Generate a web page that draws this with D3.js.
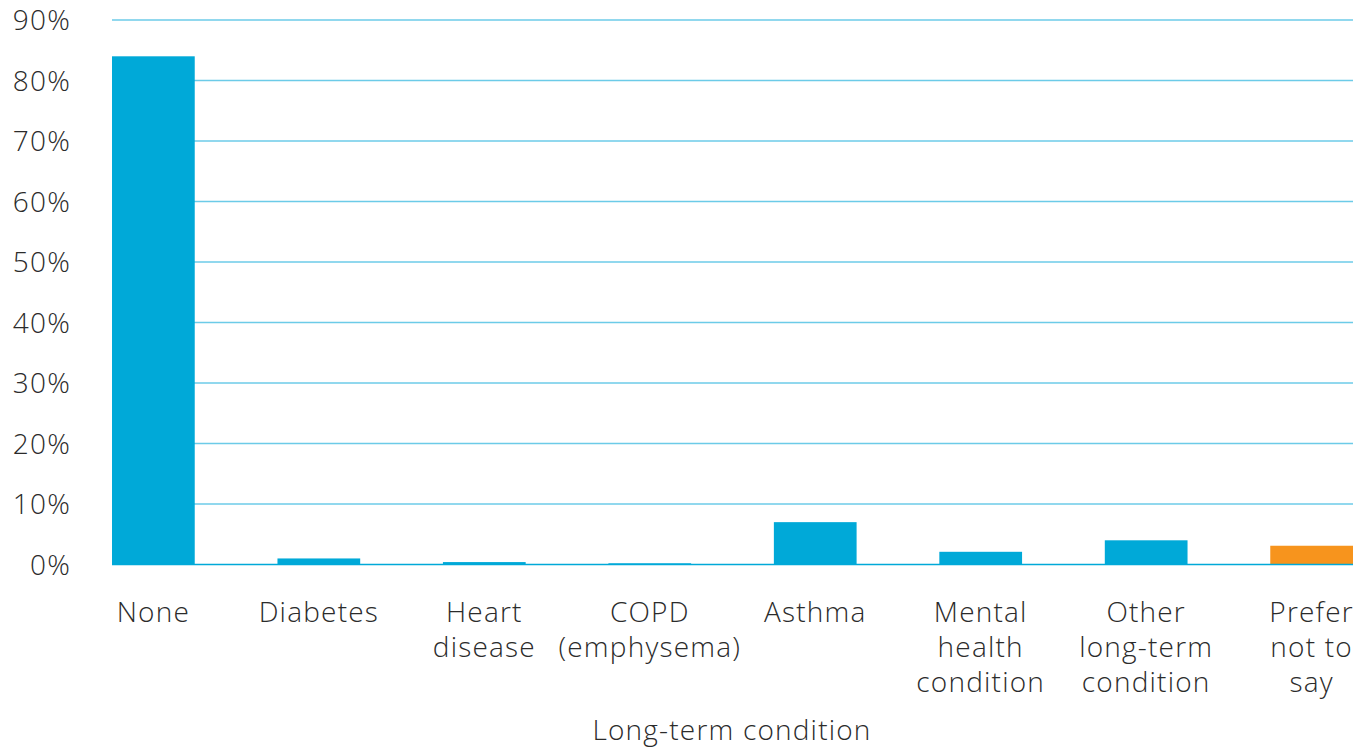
<!DOCTYPE html>
<html><head><meta charset="utf-8">
<script src="https://cdnjs.cloudflare.com/ajax/libs/d3/7.8.5/d3.min.js"></script>
<style>body{margin:0;background:#fff}svg{display:block}text{font-family:"Open Sans",Lato,sans-serif;font-weight:300;fill:#2b2b2b;letter-spacing:1.2px}</style>
</head><body><svg id="c" width="1367" height="749"></svg>
<script>
const categories = [["None"],["Diabetes"],["Heart","disease"],["COPD","(emphysema)"],["Asthma"],["Mental","health","condition"],["Other","long-term","condition"],["Prefer","not to","say"]];
const values = [84, 1.0, 0.4, 0.2, 7.0, 2.1, 4.0, 3.1];
const colors = ["#00a9d8","#00a9d8","#00a9d8","#00a9d8","#00a9d8","#00a9d8","#00a9d8","#f7941d"];
const yTicks = [0,10,20,30,40,50,60,70,80,90];
const axisTitle = "Long-term condition";

const svg = d3.select("#c");
const x = d3.scaleBand().domain(d3.range(categories.length)).range([112,1353]).paddingInner(0.5).paddingOuter(0);
const y = d3.scaleLinear().domain([0,90]).range([564.5,20]);

svg.append("g").selectAll("line").data(yTicks.filter(d=>d>0)).join("line")
  .attr("x1",112).attr("x2",1353).attr("y1",d=>y(d)).attr("y2",d=>y(d))
  .attr("stroke","#6ccbe8").attr("stroke-width",1.5);

svg.append("g").selectAll("text").data(yTicks).join("text")
  .attr("x",71).attr("y",d=>y(d)).attr("dy","0.36em").attr("text-anchor","end")
  .attr("font-size",28).text(d=>d+"%");

svg.append("g").selectAll("rect").data(values).join("rect")
  .attr("x",(d,i)=>x(i)).attr("width",x.bandwidth())
  .attr("y",d=>y(d)).attr("height",d=>y(0)-y(d)).attr("fill",(d,i)=>colors[i]);

svg.append("line").attr("x1",112).attr("x2",1353).attr("y1",y(0)).attr("y2",y(0))
  .attr("stroke","#00a9d8").attr("stroke-width",1.5);

const lab = svg.append("g").selectAll("text").data(categories).join("text")
  .attr("text-anchor","middle").attr("font-size",28)
  .attr("transform",(d,i)=>`translate(${x(i)+x.bandwidth()/2},622)`);
lab.selectAll("tspan").data(d=>d).join("tspan").attr("x",0).attr("dy",(d,i)=>i?35:0).text(d=>d);

svg.append("text").attr("x",732).attr("y",740).attr("text-anchor","middle").attr("font-size",28).text(axisTitle);
</script></body></html>
